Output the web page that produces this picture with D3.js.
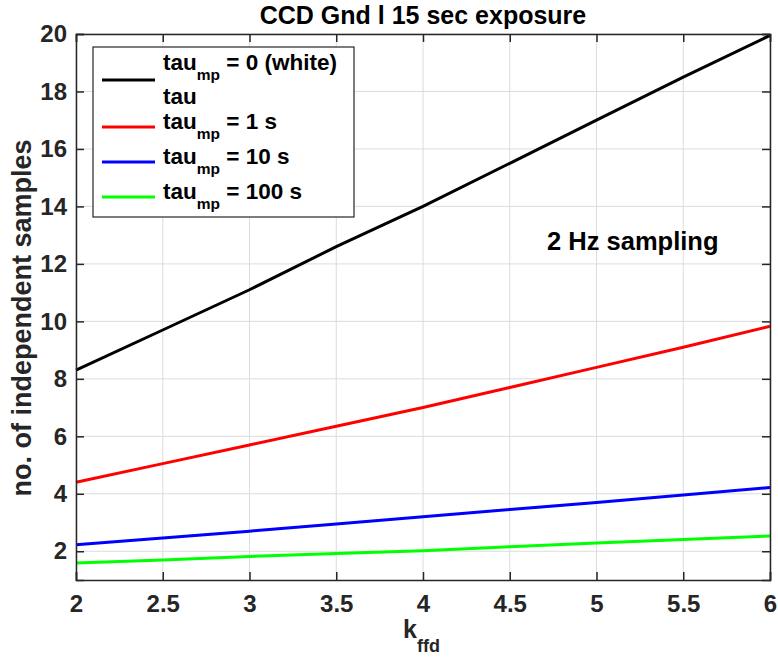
<!DOCTYPE html>
<html>
<head>
<meta charset="utf-8">
<script src="https://cdn.jsdelivr.net/npm/d3@7"></script>
<style>
  body { margin: 0; background: #fff; }
  svg text { font-family: "Liberation Sans", Arial, sans-serif; font-weight: bold; }
</style>
</head>
<body>
<div id="chart"></div>
<script>
// k_ffd values
const kffd = [2, 2.5, 3, 3.5, 4, 4.5, 5, 5.5, 6];

// number of independent samples per tau_mp
const tauWhite = [8.3, 9.7, 11.1, 12.6, 14.0, 15.5, 17.0, 18.5, 19.95];
const tau1 = [4.4, 5.05, 5.7, 6.35, 7.0, 7.7, 8.4, 9.1, 9.83];
const tau10 = [2.23, 2.46, 2.7, 2.95, 3.2, 3.45, 3.7, 3.96, 4.22];
const tau100 = [1.59, 1.7, 1.82, 1.92, 2.02, 2.16, 2.29, 2.41, 2.53];

const seriesNames = ["white", "1 s", "10 s", "100 s"];
const seriesColors = ["#000000", "#ff0000", "#0000ff", "#00ff00"];

const xTicks = [2, 2.5, 3, 3.5, 4, 4.5, 5, 5.5, 6];
const yTicks = [2, 4, 6, 8, 10, 12, 14, 16, 18, 20];

const title = "CCD Gnd l 15 sec exposure";
const yLabel = "no. of independent samples";
const annotation = "2 Hz sampling";

const width = 778, height = 657;
const margin = {top: 34, right: 8, bottom: 77, left: 76};
const w = width - margin.left - margin.right;
const h = height - margin.top - margin.bottom;

const svg = d3.select("#chart").append("svg")
    .attr("width", width)
    .attr("height", height);

const x = d3.scaleLinear().domain([2, 6]).range([0, w]);
const y = d3.scaleLinear().domain([1, 20]).range([h, 0]);

const g = svg.append("g")
    .attr("transform", `translate(${margin.left},${margin.top})`);

// grid
g.append("g").selectAll("line").data(xTicks).join("line")
    .attr("x1", d => x(d)).attr("x2", d => x(d))
    .attr("y1", 0).attr("y2", h)
    .attr("stroke", "#dcdcdc").attr("stroke-width", 1);
g.append("g").selectAll("line").data(yTicks).join("line")
    .attr("y1", d => y(d)).attr("y2", d => y(d))
    .attr("x1", 0).attr("x2", w)
    .attr("stroke", "#dcdcdc").attr("stroke-width", 1);

// lines
const allSeries = [tauWhite, tau1, tau10, tau100];
const line = d3.line()
    .x((d, i) => x(kffd[i]))
    .y(d => y(d));

g.selectAll(".series").data(allSeries).join("path")
    .attr("class", "series")
    .attr("d", d => line(d))
    .attr("fill", "none")
    .attr("stroke", (d, i) => seriesColors[i])
    .attr("stroke-width", 3);

// axes
const axisColor = "#262626";
const xAxis = g.append("g").attr("transform", `translate(0,${h})`)
    .call(d3.axisBottom(x).tickValues(xTicks).tickSize(-8).tickPadding(15).tickFormat(d3.format("")));
const xAxisTop = g.append("g")
    .call(d3.axisTop(x).tickValues(xTicks).tickSize(-8).tickFormat(""));
const yAxis = g.append("g")
    .call(d3.axisLeft(y).tickValues(yTicks).tickSize(-8).tickPadding(9));
const yAxisRight = g.append("g").attr("transform", `translate(${w},0)`)
    .call(d3.axisRight(y).tickValues(yTicks).tickSize(-8).tickFormat(""));

[xAxis, xAxisTop, yAxis, yAxisRight].forEach(a => {
    a.select(".domain").attr("stroke", axisColor).attr("stroke-width", 1.5);
    a.selectAll(".tick line").attr("stroke", axisColor).attr("stroke-width", 1.5);
    a.selectAll(".tick text").attr("fill", axisColor)
        .style("font-size", "24px").style("font-family", "Liberation Sans, Arial, sans-serif")
        .style("font-weight", "bold");
});
xAxis.selectAll(".tick text").attr("dy", "0.71em");

// title
svg.append("text")
    .attr("x", 423)
    .attr("y", 24)
    .attr("text-anchor", "middle")
    .style("font-size", "25px")
    .attr("fill", "#000")
    .text(title);

// y label
svg.append("text")
    .attr("transform", `translate(31,318) rotate(-90)`)
    .attr("text-anchor", "middle")
    .style("font-size", "27px")
    .attr("fill", axisColor)
    .text(yLabel);

// x label k_ffd
const xl = svg.append("text")
    .attr("x", 403)
    .attr("y", 638)
    .style("font-size", "25px")
    .attr("fill", axisColor);
xl.append("tspan").text("k");
xl.append("tspan").attr("dy", 14).style("font-size", "18px").text("ffd");

// annotation
svg.append("text")
    .attr("x", 547)
    .attr("y", 250)
    .style("font-size", "25.5px")
    .attr("fill", "#000")
    .text(annotation);

// legend
const legend = svg.append("g");
legend.append("rect")
    .attr("x", 93).attr("y", 47)
    .attr("width", 261).attr("height", 170)
    .attr("fill", "#fff")
    .attr("stroke", axisColor).attr("stroke-width", 1.2);

const legendLineY = [80, 127, 162, 197];
const legendTextY = [70, 128.5, 163.5, 198.5];

seriesNames.forEach((name, i) => {
    legend.append("line")
        .attr("x1", 102).attr("x2", 155)
        .attr("y1", legendLineY[i]).attr("y2", legendLineY[i])
        .attr("stroke", seriesColors[i]).attr("stroke-width", 3);
    const t = legend.append("text")
        .attr("x", 163).attr("y", legendTextY[i])
        .style("font-size", "22.5px")
        .attr("fill", "#000");
    t.append("tspan").text("tau");
    t.append("tspan").attr("dy", 10).style("font-size", "15.5px").text("mp");
    const label = i === 0 ? " = 0 (white)" : " = " + name;
    t.append("tspan").attr("dy", -10).text(label);
});
// second line of the first legend entry
legend.append("text")
    .attr("x", 163).attr("y", 103.5)
    .style("font-size", "22.5px")
    .attr("fill", "#000")
    .text("tau");
</script>
</body>
</html>
